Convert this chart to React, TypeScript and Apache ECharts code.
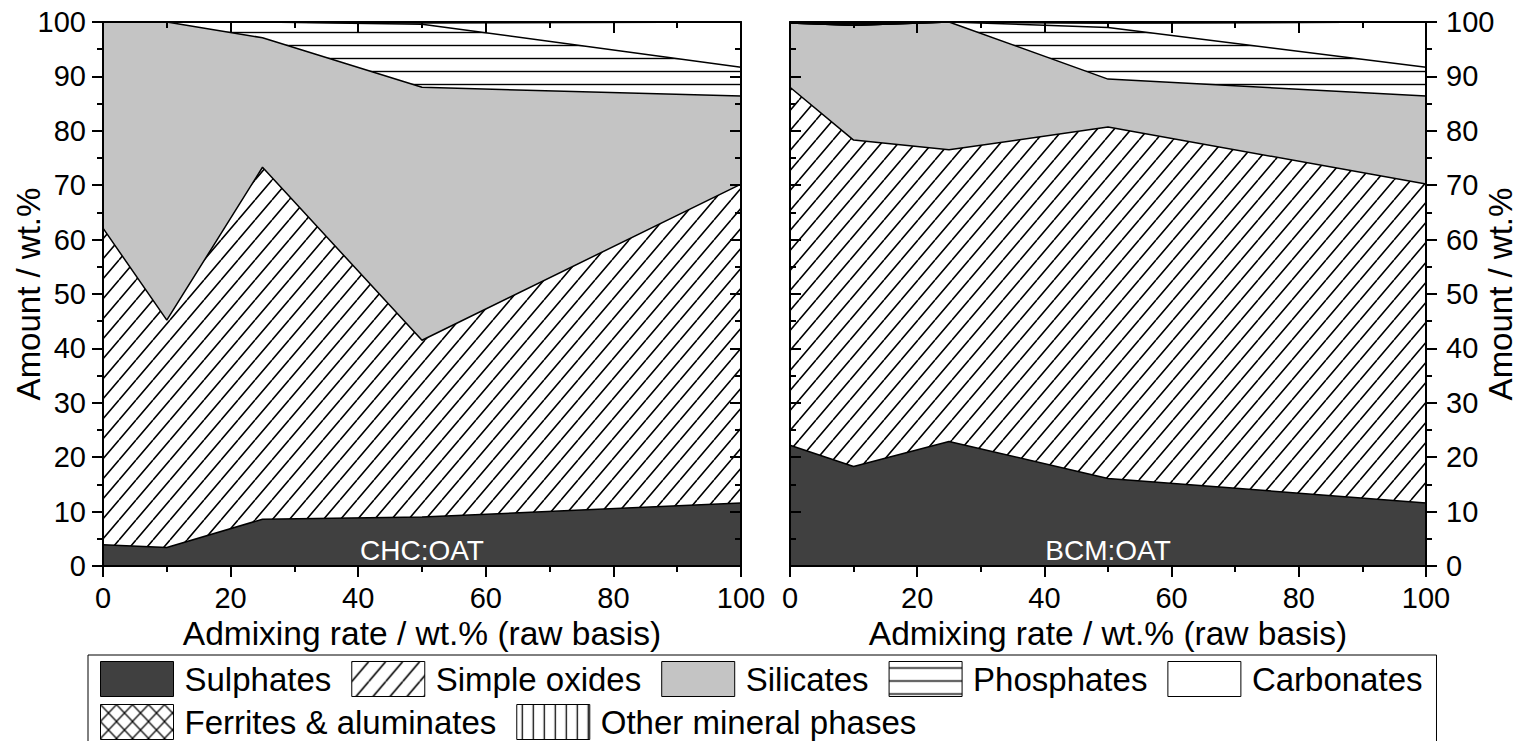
import React, { useEffect, useRef } from 'react';
import * as echarts from 'echarts';

// ---------- data ----------
const admixRates = [0, 10, 25, 50, 100];
const seriesNames = [
  'Sulphates',
  'Simple oxides',
  'Silicates',
  'Phosphates',
  'Carbonates',
  'Ferrites & aluminates',
  'Other mineral phases',
];

// CHC:OAT (left panel)
const chcSulphates = [3.9, 3.4, 8.6, 9.0, 11.6];
const chcSimpleOxides = [58.2, 41.8, 64.7, 32.5, 58.6];
const chcSilicates = [37.9, 54.8, 23.8, 46.5, 16.2];
const chcPhosphates = [0, 0, 2.9, 11.6, 5.3];
const chcCarbonates = [0, 0, 0, 0.2, 8.3];
const chcFerrites = [0, 0, 0, 0.2, 0];
const chcOther = [0, 0, 0, 0, 0];

// BCM:OAT (right panel)
const bcmSulphates = [22.2, 18.3, 22.9, 16.1, 11.6];
const bcmSimpleOxides = [65.8, 60.0, 53.6, 64.6, 58.6];
const bcmSilicates = [11.8, 21.1, 23.5, 8.8, 16.2];
const bcmPhosphates = [0, 0, 0, 9.5, 5.3];
const bcmCarbonates = [0, 0, 0, 0.8, 8.3];
const bcmFerrites = [0.1, 0.3, 0, 0, 0];
const bcmOther = [0.1, 0.3, 0, 0.2, 0];

const panelLabels = ['CHC:OAT', 'BCM:OAT'];
const xAxisTitle = 'Admixing rate / wt.% (raw basis)';
const yAxisTitle = 'Amount / wt.%';

// ---------- styles ----------
const FONT = "'Liberation Sans', Arial, sans-serif";

function svgPattern(w: number, h: number, body: string) {
  const svg =
    `<svg xmlns='http://www.w3.org/2000/svg' width='${w}' height='${h}'>` +
    `<rect x='0' y='0' width='${w}' height='${h}' fill='#ffffff'/>` +
    body +
    `</svg>`;
  return {
    image: 'data:image/svg+xml;charset=utf-8,' + encodeURIComponent(svg),
    repeat: 'repeat',
    imageWidth: w,
    imageHeight: h,
  } as any;
}

const diagPattern = svgPattern(
  17,
  20,
  `<path d='M-17 20L0 0M0 20L17 0M17 20L34 0' stroke='#000' stroke-width='1.6' fill='none'/>`
);
const horizPattern = svgPattern(
  10,
  13,
  `<path d='M-1 6.5L11 6.5' stroke='#000' stroke-width='1.4' fill='none'/>`
);
const vertPattern = svgPattern(
  11,
  10,
  `<path d='M5.5 -1L5.5 11' stroke='#000' stroke-width='1.3' fill='none'/>`
);
const crossPattern = svgPattern(
  16,
  17,
  `<path d='M-16 17L0 0M0 17L16 0M16 17L32 0M-16 0L0 17M0 0L16 17M16 0L32 17' stroke='#000' stroke-width='1.2' fill='none'/>`
);

const fills: any[] = [
  '#404040',
  diagPattern,
  '#c4c4c4',
  horizPattern,
  '#ffffff',
  crossPattern,
  vertPattern,
];

export default function App() {
  const ref = useRef<HTMLDivElement>(null);

  useEffect(() => {
    document.body.style.margin = '0';
    if (!ref.current) return;
    const chart = echarts.init(ref.current, undefined, { renderer: 'svg' });

    const panels = [
      [chcSulphates, chcSimpleOxides, chcSilicates, chcPhosphates, chcCarbonates, chcFerrites, chcOther],
      [bcmSulphates, bcmSimpleOxides, bcmSilicates, bcmPhosphates, bcmCarbonates, bcmFerrites, bcmOther],
    ];

    const grids = [
      { left: 103, top: 22, width: 638, height: 544 },
      { left: 790, top: 22, width: 636, height: 544 },
    ];

    const axisLine = { show: true, onZero: false, lineStyle: { color: '#000', width: 2 } };
    const tickStyle = { color: '#000', width: 2 };

    const xAxes: any[] = [];
    const yAxes: any[] = [];
    grids.forEach((_, gi) => {
      xAxes.push({
        gridIndex: gi,
        type: 'value',
        position: 'bottom',
        min: 0,
        max: 100,
        interval: 20,
        z: 10,
        name: xAxisTitle,
        nameLocation: 'middle',
        nameGap: 47,
        nameTextStyle: { fontSize: 33.5, color: '#000', fontFamily: FONT },
        axisLine,
        axisTick: { show: true, length: 11, lineStyle: tickStyle },
        minorTick: { show: true, splitNumber: 2, length: 6, lineStyle: tickStyle },
        axisLabel: { fontSize: 29, color: '#000', margin: 17, fontFamily: FONT },
        splitLine: { show: false },
        minorSplitLine: { show: false },
      });
      xAxes.push({
        gridIndex: gi,
        type: 'value',
        position: 'top',
        min: 0,
        max: 100,
        interval: 20,
        z: 10,
        axisLine,
        axisTick: { show: true, inside: true, length: 11, lineStyle: tickStyle },
        minorTick: { show: true, splitNumber: 2, length: 6, lineStyle: tickStyle },
        axisLabel: { show: false },
        splitLine: { show: false },
        minorSplitLine: { show: false },
      });
      const mainPos = gi === 0 ? 'left' : 'right';
      const mirrorPos = gi === 0 ? 'right' : 'left';
      yAxes.push({
        gridIndex: gi,
        type: 'value',
        position: mainPos,
        min: 0,
        max: 100,
        interval: 10,
        z: 10,
        name: yAxisTitle,
        nameLocation: 'middle',
        nameRotate: 90,
        nameGap: 58,
        nameMoveOverlap: false,
        nameTextStyle: { fontSize: 33, color: '#000', fontFamily: FONT },
        axisLine,
        axisTick: { show: true, length: 11, lineStyle: tickStyle },
        minorTick: { show: true, splitNumber: 2, length: 6, lineStyle: tickStyle },
        axisLabel: { fontSize: 29, color: '#000', margin: gi === 0 ? 17 : 20, fontFamily: FONT },
        splitLine: { show: false },
        minorSplitLine: { show: false },
      });
      yAxes.push({
        gridIndex: gi,
        type: 'value',
        position: mirrorPos,
        min: 0,
        max: 100,
        interval: 10,
        z: 10,
        axisLine,
        axisTick: { show: true, inside: true, length: 11, lineStyle: tickStyle },
        minorTick: { show: true, splitNumber: 2, length: 6, lineStyle: tickStyle },
        axisLabel: { show: false },
        splitLine: { show: false },
        minorSplitLine: { show: false },
      });
    });

    // Cumulative tops of the stacked bands; drawn from the top band down so
    // that each lower band paints over the one above it.
    const series: any[] = [];
    panels.forEach((panel, gi) => {
      const cumulative: number[][] = [];
      panel.forEach((vals, si) => {
        cumulative.push(
          vals.map((v, i) => (si === 0 ? v : cumulative[si - 1][i] + v))
        );
      });
      for (let si = panel.length - 1; si >= 0; si--) {
        series.push({
          type: 'line',
          name: seriesNames[si],
          xAxisIndex: gi * 2,
          yAxisIndex: gi * 2,
          symbol: 'none',
          silent: true,
          z: 2,
          lineStyle: { color: '#000', width: 1.5 },
          itemStyle: { color: '#000' },
          areaStyle: { color: fills[si], opacity: 1, origin: 'start' },
          data: admixRates.map((x, i) => [x, cumulative[si][i]]),
        });
      }
    });

    const option: any = {
      animation: false,
      textStyle: { fontFamily: FONT },
      grid: grids.map((g) => ({ ...g, containLabel: false })),
      xAxis: xAxes,
      yAxis: yAxes,
      series,
      legend: {
        left: 88,
        top: 655,
        width: 1420,
        orient: 'horizontal',
        padding: [6, 1, 6, 12],
        borderColor: '#000',
        borderWidth: 1,
        itemWidth: 73,
        itemHeight: 35,
        itemGap: 7,
        icon: 'rect',
        selectedMode: false,
        textStyle: {
          fontSize: 33,
          color: '#000',
          fontFamily: FONT,
          lineHeight: 35,
          padding: [0, 13, 0, 6],
        },
        data: seriesNames.map((name, i) => ({
          name,
          icon: 'rect',
          itemStyle: { color: fills[i], borderColor: '#000', borderWidth: 1 },
        })),
      },
      graphic: grids.map((g, gi) => ({
        type: 'text',
        x: g.left + g.width / 2,
        y: 550,
        z: 100,
        silent: true,
        style: {
          text: panelLabels[gi],
          fill: '#ffffff',
          font: `28px ${FONT}`,
          align: 'center',
          verticalAlign: 'middle',
        },
      })),
    };

    chart.setOption(option);
    return () => {
      chart.dispose();
    };
  }, []);

  return <div ref={ref} style={{ width: 1526, height: 741 }} />;
}
